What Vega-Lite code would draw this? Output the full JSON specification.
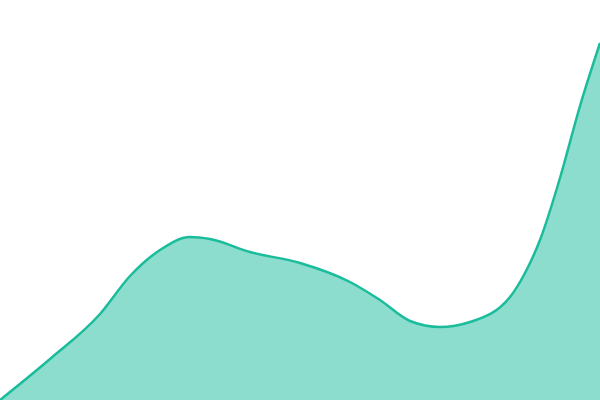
{
  "$schema": "https://vega.github.io/schema/vega-lite/v6.json",
  "width": 600,
  "height": 400,
  "autosize": "none",
  "padding": 0,
  "view": {"stroke": null},
  "data": {
    "values": [
      {"x": 0, "y": 0},
      {"x": 50, "y": 41},
      {"x": 100, "y": 86},
      {"x": 130, "y": 124},
      {"x": 160, "y": 150},
      {"x": 190, "y": 163},
      {"x": 210, "y": 161},
      {"x": 250, "y": 148},
      {"x": 300, "y": 137},
      {"x": 350, "y": 118},
      {"x": 380, "y": 100},
      {"x": 410, "y": 79},
      {"x": 440, "y": 73},
      {"x": 470, "y": 78},
      {"x": 510, "y": 103},
      {"x": 525, "y": 127},
      {"x": 540, "y": 160},
      {"x": 560, "y": 222},
      {"x": 580, "y": 294},
      {"x": 600, "y": 357}
    ]
  },
  "mark": {
    "type": "area",
    "interpolate": "monotone",
    "color": "#1abc9c",
    "fillOpacity": 0.5,
    "line": {"color": "#1abc9c", "strokeWidth": 2.5}
  },
  "encoding": {
    "x": {"field": "x", "type": "quantitative", "axis": null, "scale": {"domain": [0, 600], "nice": false}},
    "y": {"field": "y", "type": "quantitative", "axis": null, "scale": {"domain": [0, 400], "nice": false}}
  }
}
